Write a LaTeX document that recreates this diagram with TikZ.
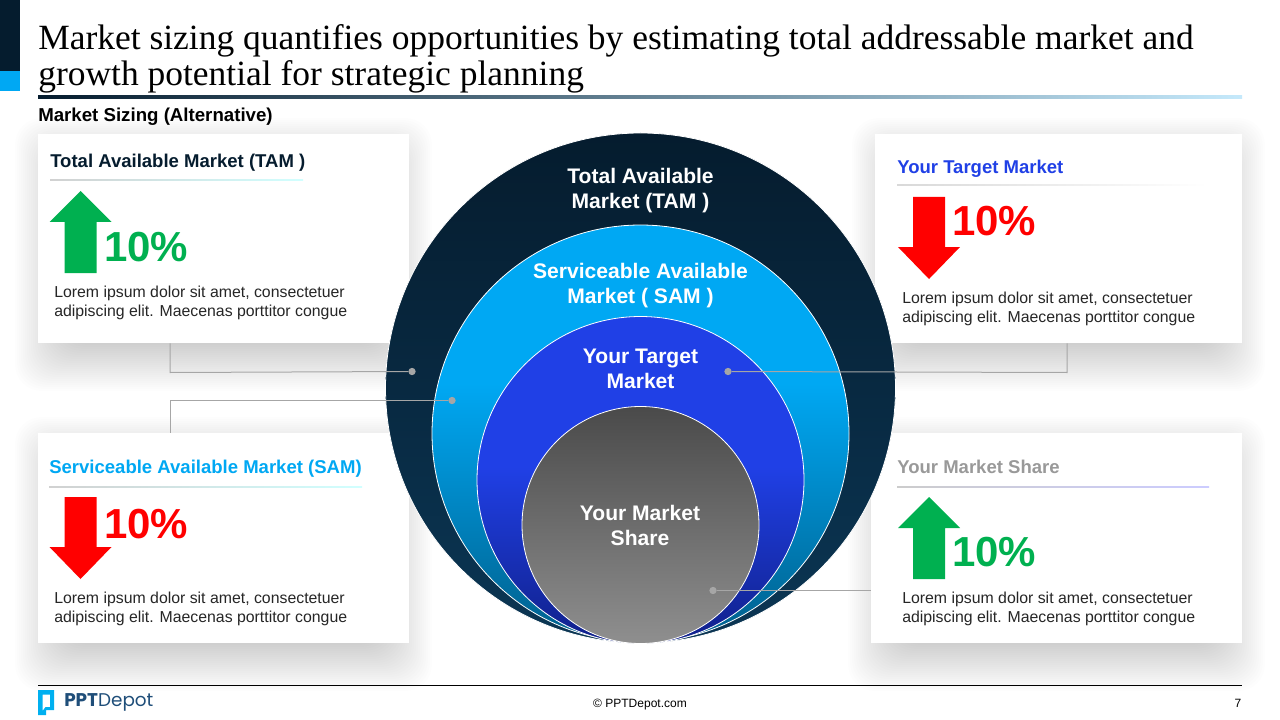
\documentclass[tikz,border=0pt]{standalone}
\usepackage{fontspec}
\setmainfont{Liberation Sans}
\newfontfamily\titleserif{Liberation Serif}
\newfontfamily\logofont{Poppins}
\usetikzlibrary{positioning}
\definecolor{navyblue}{HTML}{051C2E}
\definecolor{navylow}{HTML}{0B3654}
\definecolor{cyanblue}{HTML}{00A8F3}
\definecolor{cyanlow}{HTML}{005F8C}
\definecolor{royalblue}{HTML}{2040E6}
\definecolor{royallow}{HTML}{10208A}
\definecolor{gaingreen}{HTML}{00B050}
\definecolor{linkgrey}{HTML}{A6A6A6}
\definecolor{logoblue}{HTML}{1F4E79}
\definecolor{logocyan}{HTML}{00B0F0}
\definecolor{rulelight}{HTML}{C5E9FB}
\pgfdeclareverticalshading{samfill}{100bp}{color(0bp)=(cyanlow); color(25bp)=(cyanlow); color(56bp)=(cyanblue); color(100bp)=(cyanblue)}
\pgfdeclareverticalshading{targetfill}{100bp}{color(0bp)=(royallow); color(25bp)=(royallow); color(52bp)=(royalblue); color(100bp)=(royalblue)}
\tikzset{
  cardbox/.style={rectangle, fill=white, inner sep=0pt},
  ringbase/.style={circle, draw=white, line width=0.6pt, inner sep=0pt},
  ringlabel/.style={align=center, text=white, inner sep=0pt, font=\fontsize{15.8}{18.75}\selectfont\bfseries},
  cardtitle/.style={anchor=west, inner sep=0pt, font=\fontsize{13.9}{16}\selectfont\bfseries},
  cardtext/.style={anchor=west, align=left, inner sep=0pt, text=black!85, font=\fontsize{11.88}{14.25}\selectfont},
  bigpct/.style={anchor=west, inner sep=0pt, font=\fontsize{31.5}{36}\selectfont\bfseries},
  linkdot/.style={circle, fill=linkgrey, minimum size=5.5pt, inner sep=0pt},
  linkline/.style={draw=linkgrey, line width=0.75pt},
}
\newcommand{\cardshadow}[4]{%
  \foreach \s in {-28,-26,...,28}
    \fill[black, opacity=0.009, rounded corners=20pt] ({#1+5-\s},{#2+12-\s}) rectangle ({#3-5+\s},{#4+20+\s});
}
\newcommand{\arrowup}[3]{\fill[#3] (#1,#2) -- ({#1+31},{#2+31}) -- ({#1+16},{#2+31}) -- ({#1+16},{#2+82}) -- ({#1-16},{#2+82}) -- ({#1-16},{#2+31}) -- ({#1-31},{#2+31}) -- cycle;}
\newcommand{\arrowdown}[3]{\fill[#3] ({#1-16},#2) -- ({#1+16},#2) -- ({#1+16},{#2+50}) -- ({#1+31},{#2+50}) -- (#1,{#2+82}) -- ({#1-31},{#2+50}) -- ({#1-16},{#2+50}) -- cycle;}
\begin{document}
\begin{tikzpicture}[x=0.75pt, y=-0.75pt]
\useasboundingbox (0,0) rectangle (1280,720);

% header
\fill[navyblue] (0,0) rectangle (20,71);
\fill[cyanblue] (0,71) rectangle (20,91);
\node[anchor=north west, align=left, inner sep=0pt, text=black, font=\fontsize{26.6}{26.6}\selectfont\titleserif] (headline) at (38,24.5) {Market sizing quantifies opportunities by estimating total addressable market and\\growth potential for strategic planning};
\shade[left color=navyblue, right color=rulelight] (38,95.5) rectangle (1242,99);
\node[anchor=west, inner sep=0pt, font=\fontsize{14}{16}\selectfont\bfseries] (subhead) at (38,117) {Market Sizing (Alternative)};

% cards
\cardshadow{38}{134}{409}{343}
\cardshadow{875}{134}{1242}{343}
\cardshadow{38}{433}{409}{643}
\cardshadow{871}{433}{1242}{643}
\node[cardbox, minimum width=278.25pt, minimum height=156.75pt] (tamcard) at (223.5,238.5) {};
\node[cardbox, minimum width=275.25pt, minimum height=156.75pt] (targetcard) at (1058.5,238.5) {};
\node[cardbox, minimum width=278.25pt, minimum height=157.5pt] (samcard) at (223.5,538) {};
\node[cardbox, minimum width=278.25pt, minimum height=157.5pt] (sharecard) at (1056.5,538) {};

% card contents
\node[cardtitle, text=navyblue] (tamtitle) at (50,163) {Total Available Market (TAM )};
\shade[left color=black!18, right color=cyan!18] (50,180) rectangle (303,181);
\arrowup{80.5}{191}{gaingreen}
\node[bigpct, text=gaingreen] (tampct) at (104,247) {10\%};
\node[cardtext] (tamtext) at (54,303) {Lorem ipsum dolor sit amet, consectetuer\\adipiscing elit. Maecenas porttitor congue};

\node[cardtitle, text=royalblue] (targettitle) at (897,169) {Your Target Market};
\shade[left color=black!15, right color=white] (897,185) rectangle (1208,186);
\arrowdown{929}{197}{red}
\node[bigpct, text=red] (targetpct) at (952,221) {10\%};
\node[cardtext] (targettext) at (902,309) {Lorem ipsum dolor sit amet, consectetuer\\adipiscing elit. Maecenas porttitor congue};

\node[cardtitle, text=cyanblue] (samtitle) at (49,469) {Serviceable Available Market (SAM)};
\shade[left color=black!18, right color=cyan!18] (49,486) rectangle (362,487);
\arrowdown{80.5}{497}{red}
\node[bigpct, text=red] (sampct) at (104,524) {10\%};
\node[cardtext] (samtext) at (54,609) {Lorem ipsum dolor sit amet, consectetuer\\adipiscing elit. Maecenas porttitor congue};

\node[cardtitle, text=black!40] (sharetitle) at (897,467) {Your Market Share};
\shade[left color=black!20, right color=blue!20] (897,486) rectangle (1209,487);
\arrowup{929}{497}{gaingreen}
\node[bigpct, text=gaingreen] (sharepct) at (952,552) {10\%};
\node[cardtext] (sharetext) at (902,609) {Lorem ipsum dolor sit amet, consectetuer\\adipiscing elit. Maecenas porttitor congue};

% rings
\node[ringbase, top color=navyblue, bottom color=navylow, minimum size=382.5pt] (tamring) at (640.5,388) {};
\node[ringbase, shade, shading=samfill, minimum size=312.75pt] (samring) at (640.5,433.5) {};
\node[ringbase, shade, shading=targetfill, minimum size=245.25pt] (targetring) at (640.5,480) {};
\node[ringbase, top color=black!71, bottom color=black!44, minimum size=177.75pt] (sharering) at (640.5,525) {};

\node[ringlabel] (tamlabel) at (640.5,190.5) {Total Available\\Market (TAM )};
\node[ringlabel] (samlabel) at (640.5,285.5) {Serviceable Available\\Market ( SAM )};
\node[ringlabel] (targetlabel) at (640.5,368.5) {Your Target\\Market};
\node[ringlabel] (sharelabel) at (640,525.5) {Your Market\\Share};

% connectors
\node[linkdot] (tamdot) at (412,371.5) {};
\node[linkdot] (samdot) at (452,400.5) {};
\node[linkdot] (targetdot) at (728,371.5) {};
\node[linkdot] (sharedot) at (713,590.5) {};
\coordinate (tambend) at (170,372.5);
\coordinate (sambend) at (170,400.5);
\coordinate (targetbend) at (1067,372.5);
\draw[linkline] (tamcard.south -| tambend) -- (tambend) -- (tamdot);
\draw[linkline] (samcard.north -| sambend) -- (sambend) -- (samdot);
\draw[linkline] (targetcard.south -| targetbend) -- (targetbend) -- (targetdot);
\draw[linkline] (sharedot) -- (sharecard.west |- sharedot);

% footer
\draw[black, line width=0.75pt] (38,685.5) -- (1242,685.5);
\fill[logocyan, even odd rule] (38,690) -- (54,690) -- (54,710) -- (46,710) -- (46,715) -- (38,715) -- cycle (42.5,694.5) -- (42.5,711) -- (45.5,707) -- (50,707) -- (50,694.5) -- cycle;
\node[anchor=west, inner sep=0pt, text=logoblue, font=\fontsize{13.8}{15}\logofont] (logotext) at (64,702) {\textbf{PPT}Depot};
\node[inner sep=0pt, font=\fontsize{9}{11}\selectfont] (copyline) at (640,704.5) {© PPTDepot.com};
\node[inner sep=0pt, font=\fontsize{9}{11}\selectfont] (pagenum) at (1238,703) {7};
\end{tikzpicture}
\end{document}
